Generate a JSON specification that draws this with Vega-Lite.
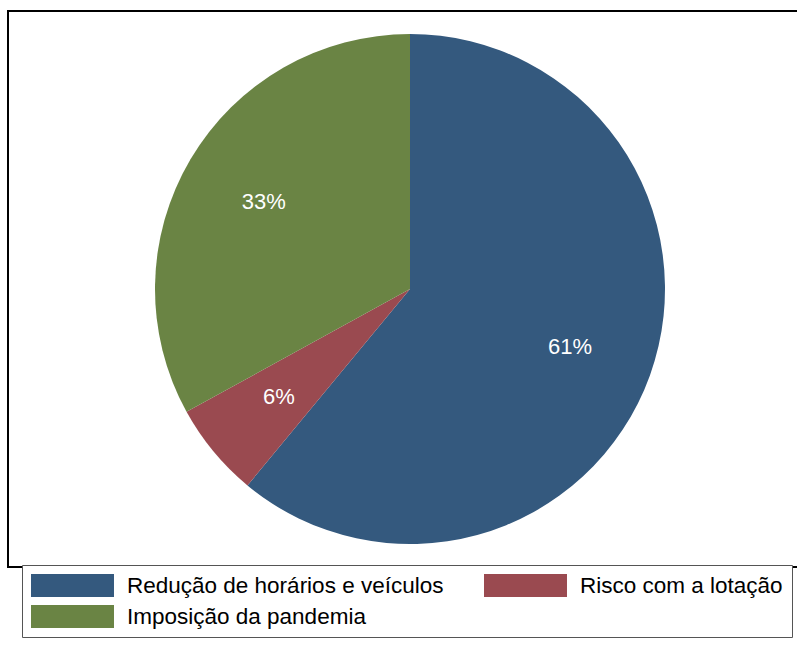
{
  "$schema": "https://vega.github.io/schema/vega-lite/v6.json",
  "width": 804,
  "height": 556,
  "autosize": {"type": "none"},
  "padding": {"left": 8, "top": 11, "right": -15, "bottom": 79},
  "background": "white",
  "view": {"stroke": "black", "strokeWidth": 2, "fill": "white"},
  "config": {
    "view": {"stroke": "black", "strokeWidth": 2},
    "font": "Liberation Sans"
  },
  "data": {
    "values": [
      {"categoria": "Redução de horários e veículos", "valor": 61, "ordem": 1, "rotulo": "61%"},
      {"categoria": "Risco com a lotação", "valor": 6, "ordem": 2, "rotulo": "6%"},
      {"categoria": "Imposição da pandemia", "valor": 33, "ordem": 3, "rotulo": "33%"}
    ]
  },
  "encoding": {
    "theta": {"field": "valor", "type": "quantitative", "stack": true},
    "order": {"field": "ordem", "type": "quantitative"}
  },
  "layer": [
    {
      "mark": {"type": "arc", "outerRadius": 255},
      "encoding": {
        "color": {
          "field": "categoria",
          "type": "nominal",
          "scale": {
            "domain": ["Redução de horários e veículos", "Risco com a lotação", "Imposição da pandemia"],
            "range": ["#34597e", "#9a4a50", "#6a8444"]
          },
          "legend": {
            "orient": "none",
            "legendX": 14,
            "legendY": 554,
            "direction": "horizontal",
            "columns": 2,
            "title": null,
            "symbolType": "M-1,-1H6.217V1H-1Z",
            "symbolSize": 529,
            "symbolStrokeWidth": 0,
            "symbolOpacity": 1,
            "labelFontSize": 22.5,
            "labelOffset": 73,
            "labelColor": "black",
            "labelLimit": 0,
            "columnPadding": 40,
            "rowPadding": 8,
            "padding": 9,
            "strokeColor": "#555",
            "fillColor": "white"
          }
        }
      }
    },
    {
      "mark": {"type": "text", "radius": 170, "fontSize": 22, "fill": "white"},
      "encoding": {"text": {"field": "rotulo"}}
    }
  ]
}
